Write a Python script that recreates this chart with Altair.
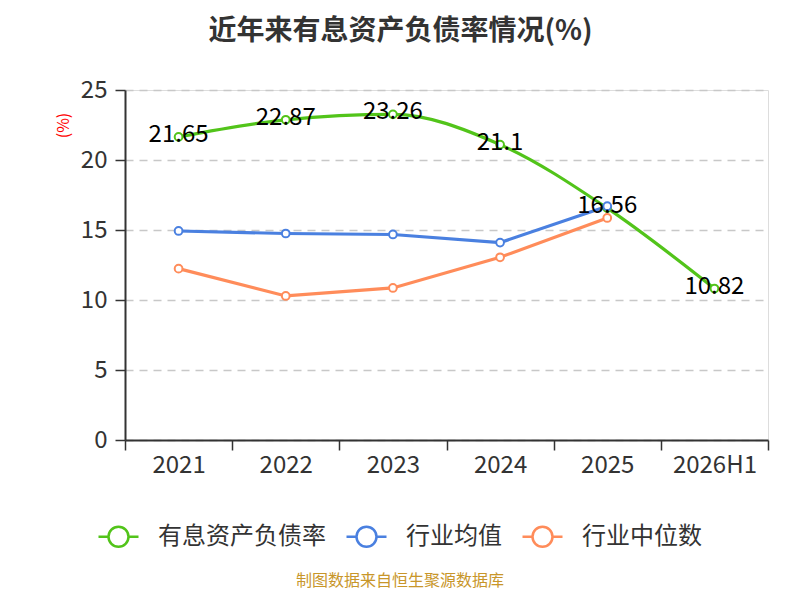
import altair as alt
import pandas as pd

years = ["2021", "2022", "2023", "2024", "2025", "2026H1"]
series_names = ["有息资产负债率", "行业均值", "行业中位数"]
debt_ratio = [21.65, 22.87, 23.26, 21.1, 16.56, 10.82]
industry_avg = [14.93, 14.75, 14.68, 14.1, 16.7]
industry_median = [12.24, 10.29, 10.86, 13.05, 15.86]
colors = ["#52c41a", "#4a80e0", "#ff8c5a"]

rows = []
for y, v in zip(years, debt_ratio):
    rows.append({"year": y, "series": series_names[0], "value": v, "label": f"{v:g}"})
for y, v in zip(years, industry_avg):
    rows.append({"year": y, "series": series_names[1], "value": v, "label": ""})
for y, v in zip(years, industry_median):
    rows.append({"year": y, "series": series_names[2], "value": v, "label": ""})
df = pd.DataFrame(rows)

FONT = "Noto Sans CJK SC"
legend_path = "M-1,0H-0.5M0.5,0H1M0.5,0A0.5,0.5 0 1,1 -0.5,0A0.5,0.5 0 1,1 0.5,0"

x_enc = alt.X("year:N", sort=years, title=None,
              scale=alt.Scale(paddingInner=0, paddingOuter=0),
              axis=alt.Axis(labelAngle=0, tickBand="extent", tickSize=10,
                            labelPadding=3, labelFontSize=24, labelColor="#333",
                            domainColor="#333", domainWidth=2, tickColor="#333",
                            tickWidth=1.5, grid=False))
y_enc = alt.Y("value:Q", scale=alt.Scale(domain=[0, 25], nice=False),
              title="(%)",
              axis=alt.Axis(values=[0, 5, 10, 15, 20, 25], tickSize=10, labelPadding=8,
                            labelFontSize=24, labelColor="#333", domainColor="#333",
                            domainWidth=2, tickColor="#333", tickWidth=1.5,
                            grid=True, gridColor="#c8c8c8", gridDash=[8, 6], gridWidth=1.5,
                            titleColor="red", titleFontSize=16, titleFontWeight="normal",
                            titleAngle=270, titleX=-62, titleY=35,
                            titleAlign="center", titleBaseline="middle"))
color_enc = alt.Color("series:N", scale=alt.Scale(domain=series_names, range=colors),
                      legend=alt.Legend(title=None, orient="none", direction="horizontal",
                                        legendX=-28, legendY=425,
                                        symbolType=legend_path, symbolSize=1600,
                                        symbolStrokeWidth=2.5, symbolFillColor="white",
                                        labelFontSize=24, labelColor="#333", labelLimit=400,
                                        labelOffset=18, columnPadding=15,
                                        labelFont=FONT))

base = alt.Chart(df)

other_lines = base.transform_filter(
    alt.datum.series != series_names[0]
).mark_line(strokeWidth=3.2).encode(x=x_enc, y=y_enc, color=color_enc)

green_line = base.transform_filter(
    alt.datum.series == series_names[0]
).mark_line(strokeWidth=3.2, interpolate="monotone").encode(x=x_enc, y=y_enc, color=color_enc)

points = base.mark_point(shape="circle", filled=False, fill="white", fillOpacity=1,
                         strokeWidth=2, size=60, opacity=1).encode(
    x=x_enc, y=y_enc, color=alt.Color("series:N", scale=alt.Scale(domain=series_names, range=colors), legend=None))

labels = base.transform_filter(
    alt.datum.series == series_names[0]
).mark_text(fontSize=24, color="black", baseline="middle", dy=-2, font=FONT).encode(
    x=x_enc, y=y_enc, text="label:N")

source = alt.Chart(pd.DataFrame({"t": ["制图数据来自恒生聚源数据库"]})).mark_text(
    fontSize=16, color="#c8962a", font=FONT, baseline="middle", align="center"
).encode(x=alt.value(275), y=alt.value(491), text="t:N")

chart = alt.layer(other_lines, green_line, points, labels, source).properties(
    width=643, height=350,
    padding={"left": 117, "top": 82, "right": 24, "bottom": 152},
    autosize=alt.AutoSizeParams(type="none"),
    title=alt.TitleParams("近年来有息资产负债率情况(%)", fontSize=28, fontWeight="bold",
                          color="#333", font=FONT, anchor="middle", dx=-46, offset=32),
).configure_view(stroke=None).configure(font=FONT)

chart.save("out.html", embed_options={"renderer": "svg", "actions": False})
